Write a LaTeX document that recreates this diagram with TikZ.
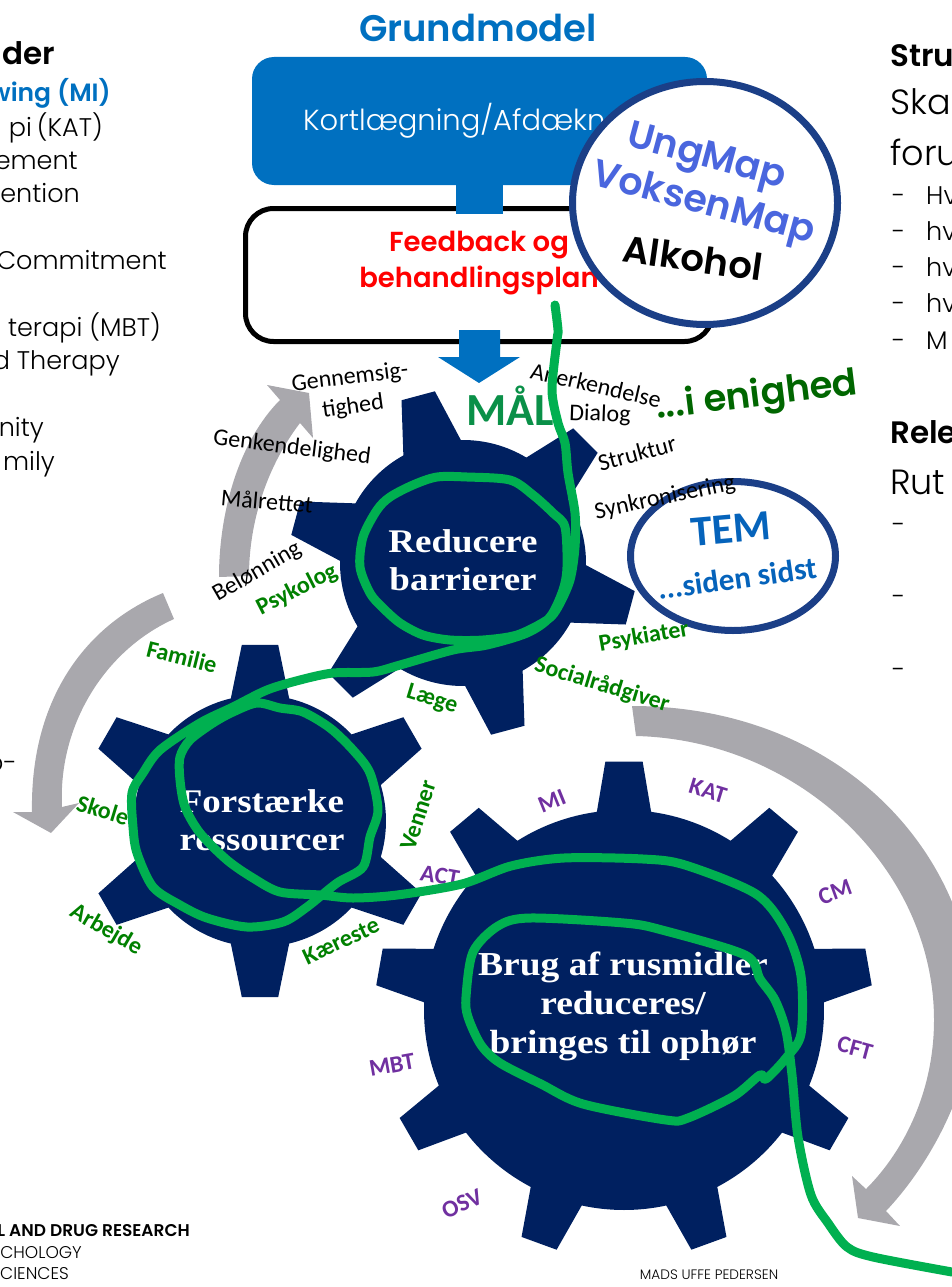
\documentclass[tikz,border=0pt]{standalone}
\usepackage{fontspec}
\usetikzlibrary{calc}
\usetikzlibrary{shapes.geometric}
\setmainfont[UprightFont={Poppins Light},BoldFont={Poppins SemiBold}]{Poppins}
\newfontfamily\labelfont{Carlito}
\newfontfamily\gearfont[FakeStretch=1.12]{Liberation Serif}
\usepackage{xcolor}

\definecolor{gearnavy}{HTML}{002060}
\definecolor{kortblue}{HTML}{0070C0}
\definecolor{temblue}{HTML}{0563BB}
\definecolor{ringblue}{HTML}{1B3F87}
\definecolor{mapblue}{HTML}{4A66DE}
\definecolor{arrowgray}{HTML}{A9A8AD}
\definecolor{scribblegreen}{HTML}{00B050}
\definecolor{malgreen}{HTML}{0A9048}
\definecolor{labelgreen}{HTML}{008000}
\definecolor{enigreen}{HTML}{006600}
\definecolor{labelpurple}{HTML}{7030A0}

\tikzset{
  blacklabel/.style={font=\labelfont\fontsize{24}{26}\selectfont,black,inner sep=0pt},
  greenlabel/.style={font=\labelfont\bfseries\fontsize{24}{26}\selectfont,labelgreen,inner sep=0pt},
  purplelabel/.style={font=\labelfont\bfseries\fontsize{24}{26}\selectfont,labelpurple,inner sep=0pt},
  geartext/.style={font=\gearfont\bfseries\fontsize{33}{38.5}\selectfont,white,align=center,inner sep=0pt},
  sidetext/.style={font=\fontsize{25.5}{28}\selectfont,black,inner sep=0pt},
  sidelarge/.style={font=\fontsize{35}{38}\selectfont,black,inner sep=0pt},
  sidehead/.style={font=\bfseries\fontsize{31}{33}\selectfont,black,inner sep=0pt},
  grayarrow/.style={fill=arrowgray,draw=none},
  ring/.style={draw=ringblue,fill=white,line width=7pt,ellipse,inner sep=0pt},
  scribble/.style={draw=scribblegreen,line width=9pt,line cap=round,line join=round}
}

% r, R, teeth, start angle, half angles at root and tip
\newcommand{\gear}[8]{
  \begin{scope}[shift={(#1,#2)},x=1pt,y=1pt]
    \fill[gearnavy] (#6+#7:#3)
      \foreach[evaluate=\k as \a using #6-(\k-1)*360/#5] \k in {1,...,#5}
      { -- (\a+#8:#4) -- (\a-#8:#4) -- (\a-#7:#3) arc[start angle=\a-#7,end angle=\a-360/#5+#7,radius=#3] }
      -- cycle;
  \end{scope}
}

\begin{document}
\begin{tikzpicture}[x=1pt,y=-1pt]

      \useasboundingbox (0,0) rectangle (952,1287);
      \clip (0,0) rectangle (952,1287);

      % Left column
      \node[sidehead,anchor=base east] (metoder) at (55,65) {der};
      \node[sidetext,anchor=base east,font=\bfseries\fontsize{25}{28}\selectfont,kortblue] (lineMI) at (111,102) {wing (MI)};
      \foreach \n/\x/\y/\t in {lineKAT/103/136/pi\kern-2pt{} (KAT),lineCM/78/169/ement,lineBI/80/202/ention,lineACT/167/269/Commitment,lineMBT/161/336/ terapi (MBT),lineCFT/120/369/d Therapy,lineCOM/44/436/nity,lineFAM/55/470/mily,lineCO/17/771/o-}
      {
        \node[sidetext,anchor=base east] (\n) at (\x,\y) {\t};
      }
      \node[anchor=base east,inner sep=0pt,font=\bfseries\fontsize{17}{18}\selectfont] (footA) at (190,1236) {L AND DRUG RESEARCH};
      \node[anchor=base east,inner sep=0pt,font=\fontsize{17}{18}\selectfont] (footB) at (82,1258) {CHOLOGY};
      \node[anchor=base east,inner sep=0pt,font=\fontsize{17}{18}\selectfont] (footC) at (69,1279) {CIENCES};
      \node[inner sep=0pt,font=\fontsize{13.7}{15}\selectfont] (footD) at (709,1275) {MADS UFFE PEDERSEN};

      % Right column
      \node[sidehead,anchor=base west] (struk) at (890,67) {Stru};
      \node[sidelarge,anchor=base west] (ska) at (890,114) {Ska};
      \node[sidelarge,anchor=base west] (foru) at (890,165) {foru};
      \foreach \n/\y/\t in {hvA/204/Hv,hvB/240/hv,hvC/276/hv,hvD/312/hv,hvE/349/M}
      {
        \node[sidetext,anchor=base west] (\n) at (926,\y) {\t};
        \node[sidetext,anchor=base west] (dash\n) at (892,\y) {-};
      }
      \node[sidehead,anchor=base west] (rel) at (890,443) {Rele};
      \node[sidelarge,anchor=base west] (rut) at (890,494) {Rut};
      \foreach \n/\y in {dashA/533,dashB/605,dashC/678}
      {
        \node[sidetext,anchor=base west] (\n) at (892,\y) {-};
      }

      % Title and boxes
      \node[inner sep=0pt,font=\bfseries\fontsize{37}{40}\selectfont,kortblue] (title) at (478,28) {Grundmodel};
      \node[fill=kortblue,rounded corners=22pt,minimum width=455pt,minimum height=128pt,inner sep=0pt] (kortbox) at (479.5,121) {};
      \node[draw=black,line width=5pt,rounded corners=28pt,minimum width=467pt,minimum height=133pt,inner sep=0pt] (feedbox) at (479,275) {};
      \draw[line width=47pt,kortblue] (kortbox.south) -- ($(kortbox.south)+(0,29)$);
      \node[inner sep=0pt,anchor=west,white,font=\fontsize{29}{32}\selectfont] (kort) at (303,121) {Kortlægning/Afdækn};
      \node[inner sep=0pt,align=center,red,font=\bfseries\fontsize{27.5}{36}\selectfont] (feed) at (479,263) {Feedback og\\behandlingsplan};
      \fill[kortblue] (459,330) -- (500,330) -- (500,357) -- (520,357) -- (479,383) -- (438,357) -- (459,357) -- cycle;

      % Circle with the maps
      \node[ring,minimum width=265pt,minimum height=243pt] (mapring) at (705,203) {};
      \node[inner sep=0pt,rotate=-15,mapblue,font=\bfseries\fontsize{38}{40}\selectfont] (ungmap) at (706,159) {UngMap};
      \node[inner sep=0pt,rotate=-15,mapblue,font=\bfseries\fontsize{38}{40}\selectfont] (voksenmap) at (703,205) {VoksenMap};
      \node[inner sep=0pt,rotate=-8,black,font=\bfseries\fontsize{37}{40}\selectfont] (alkohol) at (693,258) {Alkohol};

      % Arrows
      \path[grayarrow] (219,577) .. controls (219,510) and (240,440) .. (280,400) -- (267,385) -- (309,393) -- (313,438) -- (300,423) .. controls (268,465) and (249,520) .. (249,576) -- cycle;
      \path[grayarrow] (163,593) .. controls (85,625) and (30,700) .. (32,812) -- (13,812) -- (51,833) -- (79,803) -- (62,807) .. controls (58,725) and (105,650) .. (174,619) -- cycle;
      \path[grayarrow] (632,706) .. controls (830,706) and (965,840) .. (975,1000) .. controls (975,1090) and (925,1170) .. (886,1211) -- (900,1226) -- (858,1218) -- (852,1176) -- (866,1189) .. controls (905,1150) and (934,1090) .. (934,1020) .. controls (934,870) and (800,740) .. (636,736) -- cycle;

      % Gears
      \gear{463}{563}{123}{174}{6}{105}{14}{5.7}
      \gear{260}{821}{126}{177}{6}{90}{13.4}{5.9}
      \node[purplelabel,rotate=-10] (act) at (440,876) {ACT};
      \gear{624}{1010}{200}{249}{9}{90}{7.8}{4.3}

      \node[geartext] (barrier) at (463,560) {Reducere\\barrierer};
      \node[geartext] (ressource) at (262,820) {Forstærke\\ressourcer};
      \node[geartext,font=\gearfont\bfseries\fontsize{33.5}{39}\selectfont] (rusmidler) at (623,1006) {Brug af rusmidler\\reduceres/\\bringes til ophør};

      % TEM
      \node[ring,minimum width=205pt,minimum height=149pt] (temring) at (733,556) {};
      \node[inner sep=0pt,rotate=5,font=\labelfont\bfseries\fontsize{43}{45}\selectfont,temblue] (tem) at (731,529) {TEM};
      \node[inner sep=0pt,rotate=8,font=\labelfont\bfseries\fontsize{31}{33}\selectfont,temblue] (sidst) at (737,578) {...siden sidst};

      % Labels
      \node[inner sep=0pt,font=\labelfont\bfseries\fontsize{46}{48}\selectfont,malgreen] (maal) at (510,406) {MÅL};
      \node[inner sep=0pt,rotate=7,font=\bfseries\fontsize{37}{39}\selectfont,enigreen] (enighed) at (757,397) {...i enighed};
      \foreach \n/\x/\y/\r/\t in {gennem/350/378/7/Gennemsig-,tighed/353/407/8/tighed,genkend/292/448/-7/Genkendelighed,maalret/267/501/-5/Målrettet,beloen/257/572/30/Belønning,anerkend/596/385/-13/Anerkendelse,dialog/600/415/-2/Dialog,struktur/637/453/15/Struktur,synkron/665/498/12/Synkronisering}
      {
        \node[blacklabel,rotate=\r] (\n) at (\x,\y) {\t};
      }
      \foreach \n/\x/\y/\r/\t in {psykolog/297/590/27/Psykolog,psykiater/644/637/10/Psykiater,social/602/685/-17/Socialrådgiver,laege/432/700/-17/Læge,familie/182/657/-14/Familie,skole/103/810/-17/Skole,arbejde/106/930/-30/Arbejde,kaereste/341/941/25/Kæreste,venner/418/815/72/Venner}
      {
        \node[greenlabel,rotate=\r] (\n) at (\x,\y) {\t};
      }
      \foreach \n/\x/\y/\r/\t in {mi/552/801/22/MI,kat/708/791/-17/KAT,cm/835/892/20/CM,cft/855/1048/-15/CFT,mbt/392/1065/10/MBT,osv/462/1204/25/OSV}
      {
        \node[purplelabel,rotate=\r] (\n) at (\x,\y) {\t};
      }

      % Green line
      \draw[scribble] plot[smooth,tension=.5] coordinates {(555,305) (558,330) (557,340) (552,390) (558,423) (565,443) (568,473) (575,513) (575,547) (570,580) (558,607) (547,620) (517,635) (483,640) (450,640) (423,635) (400,623) (382,607) (370,593) (360,567) (363,537) (377,510) (390,497) (413,485) (437,477) (467,477) (510,480) (533,495) (553,513) (565,527) (567,567) (563,590) (550,617) (527,633) (487,645) (453,650) (400,665) (373,672) (333,673) (300,680) (267,690) (233,707) (200,723) (160,750) (143,773) (132,793) (133,827) (137,853) (153,887) (180,905) (207,918) (247,927) (283,922) (307,907) (337,883) (363,867) (370,837) (378,810) (370,773) (353,750) (330,728) (303,712) (280,708) (257,703) (233,712) (213,723) (190,740) (180,757) (180,780) (185,807) (200,833) (227,860) (253,878) (280,892) (320,895) (353,898) (397,895) (462,884) (511,866) (564,858) (643,859) (685,865) (756,894) (786,931) (801,976) (801,1034) (786,1058) (766,1079) (760,1075) (734,1096) (688,1118) (666,1120) (583,1104) (541,1084) (500,1063) (481,1045) (468,1017) (466,997) (473,952) (498,926) (530,918) (624,923) (662,930) (745,955) (760,979) (775,1000) (786,1031) (792,1075) (798,1137) (811,1195) (828,1223) (847,1247) (873,1257) (952,1272)};

  \end{tikzpicture}
\end{document}
